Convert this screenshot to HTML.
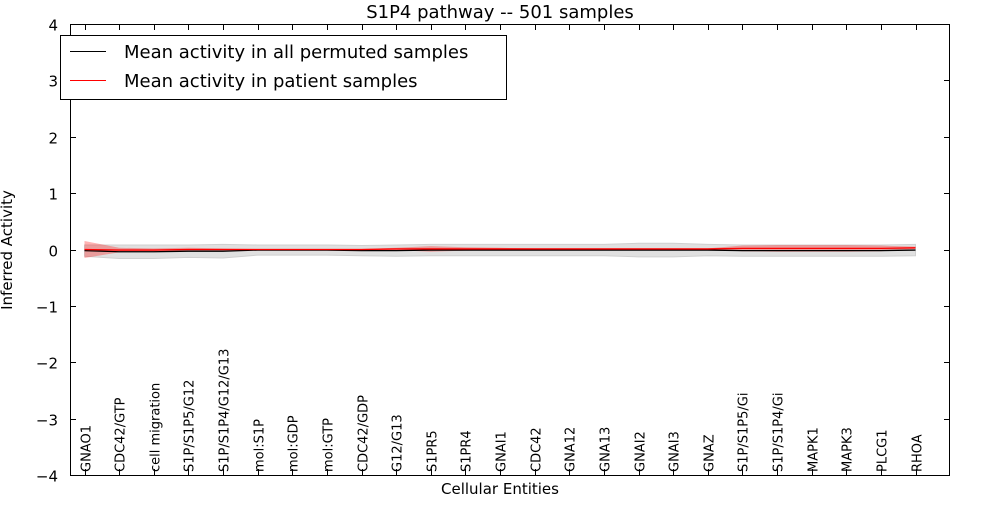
<!DOCTYPE html>
<html><head><meta charset="utf-8"><style>
body{margin:0;background:#fff;font-family:"Liberation Sans","DejaVu Sans",sans-serif}
</style></head><body>
<svg width="1000" height="500" xmlns="http://www.w3.org/2000/svg" font-family="DejaVu Sans, Liberation Sans, sans-serif">
<rect width="1000" height="500" fill="#fff"/>
<g id="plot"></g>
<rect x="70.5" y="24.5" width="879" height="451" fill="none" stroke="#000" stroke-width="1"/>
<text x="500" y="18" font-size="18" text-anchor="middle">S1P4 pathway -- 501 samples</text>
<text x="500" y="494" font-size="15" text-anchor="middle">Cellular Entities</text>
<text x="12" y="250" font-size="15" text-anchor="middle" transform="rotate(-90 12 250)">Inferred Activity</text>
<g>
<rect x="60.5" y="35.5" width="446" height="64" fill="#fff" stroke="#000"/>
<line x1="70" y1="51.5" x2="106" y2="51.5" stroke="#000"/>
<text x="124" y="58" font-size="18">Mean activity in all permuted samples</text>
<line x1="70" y1="80.5" x2="106" y2="80.5" stroke="#f00"/>
<text x="124" y="87" font-size="18">Mean activity in patient samples</text>
</g>
</svg>
<script>
const categories=["GNAO1","CDC42/GTP","cell migration","S1P/S1P5/G12","S1P/S1P4/G12/G13","mol:S1P","mol:GDP","mol:GTP","CDC42/GDP","G12/G13","S1PR5","S1PR4","GNAI1","CDC42","GNA12","GNA13","GNAI2","GNAI3","GNAZ","S1P/S1P5/Gi","S1P/S1P4/Gi","MAPK1","MAPK3","PLCG1","RHOA"];
const permMean=[-0.02,-0.04,-0.04,-0.03,-0.03,-0.01,-0.01,-0.01,-0.02,-0.02,-0.01,-0.01,-0.01,-0.01,-0.01,-0.01,-0.01,-0.01,-0.01,-0.02,-0.02,-0.02,-0.02,-0.02,-0.01];
const permSd=[0.1,0.12,0.12,0.11,0.12,0.09,0.09,0.09,0.09,0.1,0.1,0.1,0.1,0.1,0.1,0.1,0.12,0.12,0.1,0.1,0.1,0.1,0.1,0.1,0.1];
const patMean=[0,-0.01,-0.01,0,0,0,0,0,0,0.01,0.01,0.01,0.01,0.01,0.01,0.01,0.01,0.01,0.01,0.02,0.02,0.02,0.02,0.02,0.03];
const patSd=[0.15,0.04,0.03,0.03,0.02,0.01,0.01,0.01,0.01,0.02,0.05,0.03,0.02,0.01,0.01,0.01,0.01,0.01,0.01,0.05,0.06,0.06,0.06,0.05,0.02];
const yTicks=[-4,-3,-2,-1,0,1,2,3,4];
const NS="http://www.w3.org/2000/svg";
const g=document.getElementById('plot');
const xs=i=>84.5+i*(831/24);
const ys=v=>249.5-v*56.375;
function mk(t,a){const e=document.createElementNS(NS,t);for(const k in a)e.setAttribute(k,a[k]);g.appendChild(e);return e;}
function band(m,s){let up=m.map((v,i)=>xs(i)+','+ys(v+s[i]));let dn=m.map((v,i)=>xs(i)+','+ys(v-s[i])).reverse();return up.concat(dn).join(' ');}
let e=mk('polygon',{points:band(permMean,permSd),fill:'#e0e0e0',stroke:'#d0d0d0'});


e=mk('polygon',{points:band(patMean,patSd),fill:'rgba(255,0,0,0.3)',stroke:'none'});


e=mk('polyline',{points:permMean.map((v,i)=>xs(i)+','+ys(v)).join(' '),fill:'none',stroke:'#000','stroke-width':1.3});


e=mk('polyline',{points:patMean.map((v,i)=>xs(i)+','+ys(v)).join(' '),fill:'none',stroke:'#f00','stroke-width':1.3});


yTicks.forEach(t=>{const y=Math.round(ys(t))+0.5;
let l=mk('line',{x1:70,x2:76,y1:y,y2:y,stroke:'#000'});


l=mk('line',{x1:944,x2:950,y1:y,y2:y,stroke:'#000'});


const tx=mk('text',{x:58,y:y+6,'font-size':15,'text-anchor':'end'});
tx.textContent=(t<0?'\u2212'+(-t):t);

});
categories.forEach((c,i)=>{const x=Math.round(xs(i))+0.5;
let l=mk('line',{x1:x,x2:x,y1:475,y2:469,stroke:'#000'});


l=mk('line',{x1:x,x2:x,y1:24,y2:30,stroke:'#000'});


const tx=mk('text',{x:x+5,y:472,'font-size':13,transform:`rotate(-90 ${x+5} 472)`});
tx.textContent=c;

});
</script>
</body></html>
